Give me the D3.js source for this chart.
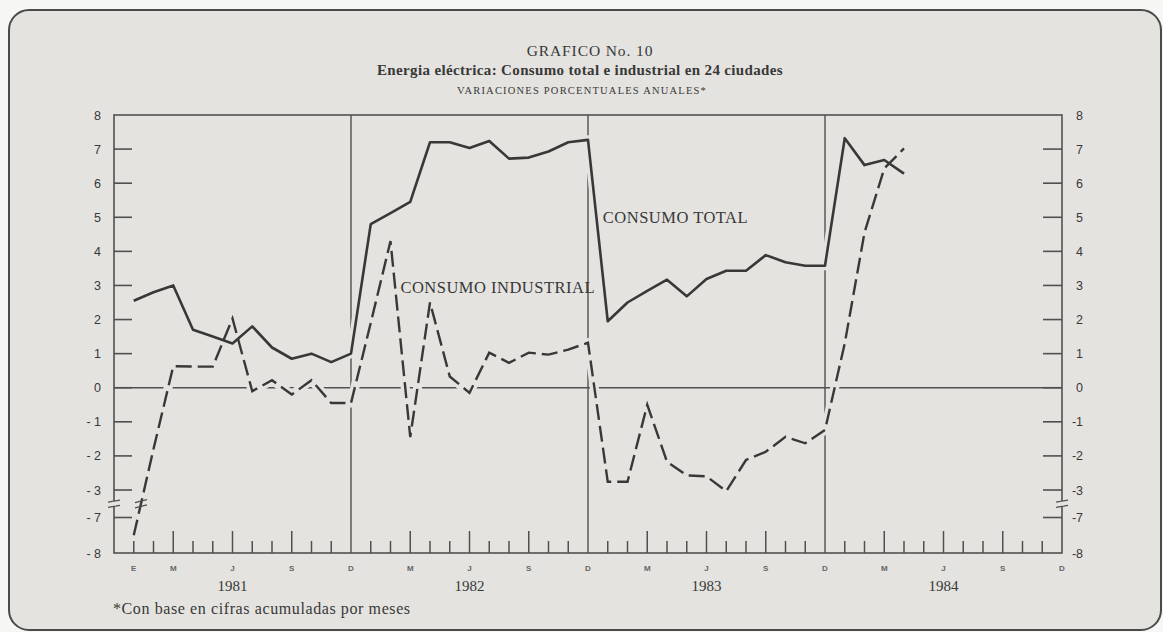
<!DOCTYPE html>
<html>
<head>
<meta charset="utf-8">
<script src="https://cdn.jsdelivr.net/npm/d3@7"></script>
<style>
  body { margin: 0; background: #f6f6f4; }
  svg { display: block; }
</style>
</head>
<body>
<script>
// monthly index: 0 = Enero 1981 ... 47 = Diciembre 1984
var years = ["1981", "1982", "1983", "1984"];
var monthLetters = ["E", "F", "M", "A", "M", "J", "J", "A", "S", "O", "N", "D"];

// consumo total, Ene 1981 - Abr 1984
var consumoTotal = [2.55, 2.8, 3.0, 1.7, 1.5, 1.3, 1.8, 1.18, 0.85, 1.0, 0.75, 1.0,
  4.8, 5.12, 5.45, 7.2, 7.2, 7.03, 7.24, 6.72, 6.75, 6.93, 7.2, 7.27,
  1.95, 2.5, 2.84, 3.17, 2.68, 3.19, 3.43, 3.43, 3.89, 3.68, 3.58, 3.58,
  7.32, 6.53, 6.68, 6.28];

// consumo industrial, Ene 1981 - Abr 1984
var consumoIndustrial = [-7.5, -1.8, 0.63, 0.62, 0.62, 2.03, -0.1, 0.22, -0.2, 0.22, -0.45, -0.45,
  1.9, 4.3, -1.45, 2.5, 0.33, -0.15, 1.03, 0.73, 1.03, 0.97, 1.12, 1.32,
  -2.76, -2.76, -0.5, -2.17, -2.57, -2.6, -3.16, -2.12, -1.88, -1.44, -1.63, -1.24,
  1.3, 4.55, 6.43, 7.02];

var yTicks = [8, 7, 6, 5, 4, 3, 2, 1, 0, -1, -2, -3, -7, -8];

var W = 1163, H = 632;
var paper = "#e4e3df", ink = "#383838", rule = "#505050";

var svg = d3.select("body").append("svg").attr("width", W).attr("height", H);

svg.append("rect").attr("x", 9).attr("y", 10).attr("width", 1152).attr("height", 620)
  .attr("rx", 20).attr("fill", paper).attr("stroke", "#4a4a4a").attr("stroke-width", 2);

// x from month index, y is broken between -3 and -7
var x = d3.scaleLinear().domain([-1, 47]).range([114, 1062]);
var y = d3.scaleLinear().domain([-8, -7, -3, 8]).range([553, 517.5, 490, 115]);

var serif = "'Liberation Serif', 'DejaVu Serif', serif";
var sans = "'Liberation Sans', Arial, sans-serif";

// titles
svg.append("text").attr("x", 590).attr("y", 56).attr("text-anchor", "middle")
  .style("font-family", serif).style("font-size", "15.5px").style("letter-spacing", "0.9px")
  .attr("fill", ink).text("GRAFICO No. 10");
svg.append("text").attr("x", 580).attr("y", 75).attr("text-anchor", "middle")
  .style("font-family", serif).style("font-size", "15px").style("font-weight", "bold")
  .style("letter-spacing", "0.35px")
  .attr("fill", ink).text("Energia eléctrica: Consumo total e industrial en 24 ciudades");
svg.append("text").attr("x", 582).attr("y", 94).attr("text-anchor", "middle")
  .style("font-family", serif).style("font-size", "10.5px").style("letter-spacing", "1.2px")
  .attr("fill", ink).text("VARIACIONES PORCENTUALES ANUALES*");

var g = svg.append("g");

// frame
g.append("rect").attr("x", x(-1)).attr("y", y(8)).attr("width", x(47) - x(-1)).attr("height", y(-8) - y(8))
  .attr("fill", "none").attr("stroke", rule).attr("stroke-width", 1.6);

// zero line and year separators
g.append("line").attr("x1", x(-1)).attr("x2", x(47)).attr("y1", y(0)).attr("y2", y(0))
  .attr("stroke", rule).attr("stroke-width", 1.4);
g.selectAll(".sep").data([11, 23, 35]).enter().append("line")
  .attr("x1", d => x(d)).attr("x2", d => x(d)).attr("y1", y(8)).attr("y2", y(-8))
  .attr("stroke", rule).attr("stroke-width", 1.4);

// y ticks both sides
var inner = yTicks.filter(d => d !== 8 && d !== -8);
g.selectAll(".ytl").data(inner).enter().append("line")
  .attr("x1", x(-1)).attr("x2", x(-1) + 18).attr("y1", d => y(d)).attr("y2", d => y(d))
  .attr("stroke", rule).attr("stroke-width", 1.6);
g.selectAll(".ytr").data(inner).enter().append("line")
  .attr("x1", x(47) - 19).attr("x2", x(47)).attr("y1", d => y(d)).attr("y2", d => y(d))
  .attr("stroke", rule).attr("stroke-width", 1.6);
g.selectAll(".ylabL").data(yTicks).enter().append("text")
  .attr("x", x(-1) - 13).attr("y", d => y(d) + 4.5).attr("text-anchor", "end")
  .style("font-family", sans).style("font-size", "12.5px").attr("fill", ink)
  .text(d => d < 0 ? "- " + Math.abs(d) : d);
g.selectAll(".ylabR").data(yTicks).enter().append("text")
  .attr("x", x(47) + 21).attr("y", d => y(d) + 4.5).attr("text-anchor", "end")
  .style("font-family", sans).style("font-size", "12.5px").attr("fill", ink)
  .text(d => d < 0 ? "-" + Math.abs(d) : d);

// axis break marks
var bMid = (y(-3) + y(-7)) / 2;
[x(-1), x(47)].forEach(function (bx) {
  [-2.6, 2.6].forEach(function (o) {
    g.append("line").attr("x1", bx - 6).attr("x2", bx + 6)
      .attr("y1", bMid + o + 1).attr("y2", bMid + o - 1)
      .attr("stroke", rule).attr("stroke-width", 1.4);
  });
  g.append("line").attr("x1", bx).attr("x2", bx).attr("y1", bMid - 2).attr("y2", bMid + 2)
    .attr("stroke", paper).attr("stroke-width", 3);
});

// month ticks
var months = d3.range(0, 47);
g.selectAll(".mt").data(months.filter(d => [11, 23, 35].indexOf(d) < 0)).enter().append("line")
  .attr("x1", d => x(d)).attr("x2", d => x(d)).attr("y1", y(-8))
  .attr("y2", d => y(-8) - (d % 3 === 2 ? 22 : 12))
  .attr("stroke", rule).attr("stroke-width", 1.5);
var monthLab = d3.range(0, 48).filter(d => d === 0 || d % 3 === 2);
g.selectAll(".ml").data(monthLab).enter().append("text")
  .attr("x", d => x(d)).attr("y", 571).attr("text-anchor", "middle")
  .style("font-family", sans).style("font-size", "8px").style("font-weight", "bold")
  .attr("fill", "#666").text(d => monthLetters[d % 12]);
g.selectAll(".yr").data(years).enter().append("text")
  .attr("x", (d, i) => x(5 + i * 12)).attr("y", 591).attr("text-anchor", "middle")
  .style("font-family", serif).style("font-size", "15px").attr("fill", ink).text(d => d);

// lines
var line = d3.line().x((d, i) => x(i)).y(d => y(d));
g.append("path").datum(consumoTotal).attr("d", line).attr("fill", "none")
  .attr("stroke", paper).attr("stroke-width", 9);
g.append("path").datum(consumoIndustrial).attr("d", line).attr("fill", "none")
  .attr("stroke", paper).attr("stroke-width", 9);
g.append("path").datum(consumoTotal).attr("d", line).attr("fill", "none")
  .attr("stroke", ink).attr("stroke-width", 2.6).attr("stroke-linejoin", "round");
g.append("path").datum(consumoIndustrial).attr("d", line).attr("fill", "none")
  .attr("stroke", ink).attr("stroke-width", 2.4).attr("stroke-dasharray", "16,6");

// break marks on the industrial line where it crosses the gap
var y0 = y(consumoIndustrial[0]), y1 = y(consumoIndustrial[1]);
var t = (y0 - bMid) / (y0 - y1);
var cx = x(0) + t * (x(1) - x(0));
[-2.6, 2.6].forEach(function (o) {
  g.append("line").attr("x1", cx - 6).attr("x2", cx + 6)
    .attr("y1", bMid + o + 1.5).attr("y2", bMid + o - 1.5)
    .attr("stroke", rule).attr("stroke-width", 1.4);
});

// series labels
g.append("text").attr("x", x(13.5)).attr("y", y(2.78))
  .style("font-family", serif).style("font-size", "16.5px").style("letter-spacing", "0.5px")
  .attr("fill", ink).text("CONSUMO INDUSTRIAL");
g.append("text").attr("x", x(23.75)).attr("y", y(4.83))
  .style("font-family", serif).style("font-size", "16.5px").style("letter-spacing", "0.5px")
  .attr("fill", ink).text("CONSUMO TOTAL");

// footnote
svg.append("text").attr("x", 113).attr("y", 614)
  .style("font-family", serif).style("font-size", "16px").style("letter-spacing", "0.6px")
  .attr("fill", ink)
  .text("*Con base en cifras acumuladas por meses");
</script>
</body>
</html>
